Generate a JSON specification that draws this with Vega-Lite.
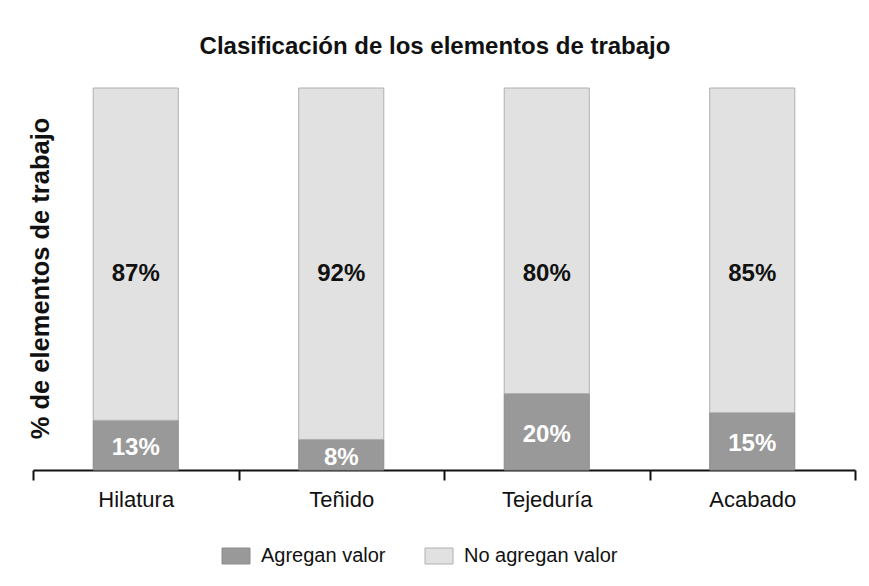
{
  "$schema": "https://vega.github.io/schema/vega-lite/v6.json",
  "autosize": {"type": "none"},
  "width": 822,
  "height": 382,
  "padding": {"left": 33, "top": 88, "right": 14, "bottom": 116},
  "background": "white",
  "config": {
    "view": {"stroke": null},
    "font": "Liberation Sans"
  },
  "title": {
    "text": "Clasificación de los elementos de trabajo",
    "fontSize": 24,
    "fontWeight": "bold",
    "font": "Liberation Sans",
    "color": "#111111",
    "offset": 29,
    "dx": -9
  },
  "data": {
    "values": [
      {"proceso": "Hilatura", "tipo": "Agregan valor", "valor": 13, "etiqueta": "13%"},
      {"proceso": "Hilatura", "tipo": "No agregan valor", "valor": 87, "etiqueta": "87%"},
      {"proceso": "Teñido", "tipo": "Agregan valor", "valor": 8, "etiqueta": "8%"},
      {"proceso": "Teñido", "tipo": "No agregan valor", "valor": 92, "etiqueta": "92%"},
      {"proceso": "Tejeduría", "tipo": "Agregan valor", "valor": 20, "etiqueta": "20%"},
      {"proceso": "Tejeduría", "tipo": "No agregan valor", "valor": 80, "etiqueta": "80%"},
      {"proceso": "Acabado", "tipo": "Agregan valor", "valor": 15, "etiqueta": "15%"},
      {"proceso": "Acabado", "tipo": "No agregan valor", "valor": 85, "etiqueta": "85%"}
    ]
  },
  "encoding": {
    "x": {
      "field": "proceso",
      "type": "nominal",
      "sort": ["Hilatura", "Teñido", "Tejeduría", "Acabado"],
      "scale": {"paddingInner": 0, "paddingOuter": 0},
      "axis": {
        "title": null,
        "labelAngle": 0,
        "labelFontSize": 22,
        "labelColor": "#111111",
        "labelPadding": 9,
        "domainColor": "#111111",
        "domainWidth": 2,
        "tickColor": "#111111",
        "tickWidth": 2,
        "tickSize": 10,
        "tickBand": "extent",
        "grid": false
      }
    }
  },
  "layer": [
    {
      "mark": {"type": "bar", "strokeWidth": 1, "width": {"band": 0.414}},
      "encoding": {
        "y": {
          "field": "valor",
          "type": "quantitative",
          "stack": "zero",
          "scale": {"domain": [0, 100]},
          "axis": {
            "title": "% de elementos de trabajo",
            "titleFontSize": 25.5,
            "titleFontWeight": "bold",
            "titleColor": "#111111",
            "titleAngle": -90,
            "titleX": 15,
            "titleY": 190,
            "titleAlign": "center",
            "titleBaseline": "alphabetic",
            "labels": false,
            "ticks": false,
            "domain": false,
            "grid": false
          }
        },
        "order": {"field": "tipo", "sort": "ascending"},
        "color": {
          "field": "tipo",
          "type": "nominal",
          "scale": {"domain": ["Agregan valor", "No agregan valor"], "range": ["#999999", "#e1e1e1"]},
          "legend": {
            "title": null,
            "orient": "none",
            "direction": "horizontal",
            "legendX": 193,
            "legendY": 458,
            "padding": 0,
            "symbolType": "M-1.75,-1L1.75,-1L1.75,1L-1.75,1Z",
            "symbolSize": 256,
            "symbolStrokeColor": "#999999",
            "symbolStrokeWidth": 1,
            "labelOffset": 15,
            "labelFontSize": 20,
            "labelColor": "#111111",
            "columnPadding": 37
          }
        },
        "stroke": {
          "field": "tipo",
          "type": "nominal",
          "scale": {"domain": ["Agregan valor", "No agregan valor"], "range": ["#8c8c8c", "#b0b0b0"]},
          "legend": null
        }
      }
    },
    {
      "transform": [{"filter": "datum.tipo === 'No agregan valor'"}],
      "mark": {"type": "text", "fontSize": 24, "fontWeight": "bold", "color": "#111111", "baseline": "middle"},
      "encoding": {
        "y": {"datum": 51.3, "type": "quantitative", "scale": {"domain": [0, 100]}, "axis": null},
        "text": {"field": "etiqueta"}
      }
    },
    {
      "transform": [{"filter": "datum.tipo === 'Agregan valor'"}],
      "mark": {"type": "text", "fontSize": 24, "fontWeight": "bold", "color": "white", "baseline": "middle", "dy": 3},
      "encoding": {
        "y": {"field": "valor", "type": "quantitative", "scale": {"domain": [0, 200]}, "axis": null},
        "text": {"field": "etiqueta"}
      }
    }
  ],
  "resolve": {"scale": {"y": "independent"}}
}
